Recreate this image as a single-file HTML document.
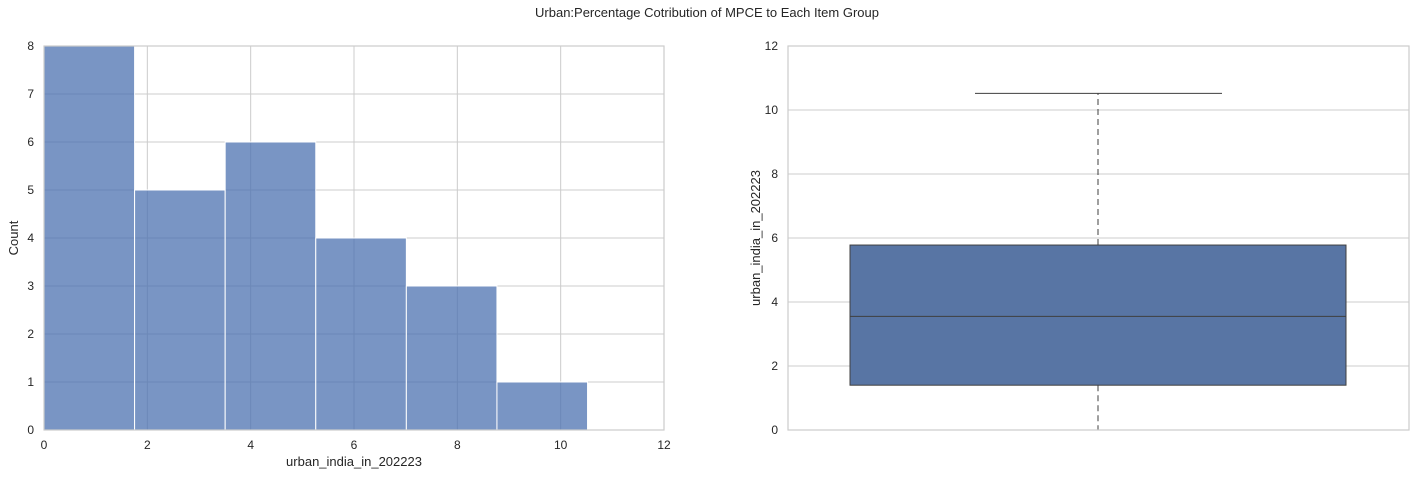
<!DOCTYPE html>
<html><head><meta charset="utf-8"><style>
body{margin:0;background:#fff;font-family:"Liberation Sans",sans-serif;}
svg text{font-family:"Liberation Sans",sans-serif;fill:#262626;}
</style></head><body>
<svg width="1415" height="477" xmlns="http://www.w3.org/2000/svg">
<text x="707" y="17" text-anchor="middle" font-size="13">Urban:Percentage Cotribution of MPCE to Each Item Group</text>
<g id="left"></g>
<g id="right"></g>
</svg>
<script>
const binCounts=[8,5,6,4,3,1];
const binMin=0, binMax=10.52;
const xTicks=[0,2,4,6,8,10,12];
const yTicksHist=[0,1,2,3,4,5,6,7,8];
const boxStats=[0,1.4,3.55,5.78,10.52]; // min,q1,median,q3,max
const yTicksBox=[0,2,4,6,8,10,12];
const NS="http://www.w3.org/2000/svg";
function mk(p,t,a){const e=document.createElementNS(NS,t);for(const k in a)e.setAttribute(k,a[k]);p.appendChild(e);return e;}
const L=document.getElementById('left'), R=document.getElementById('right');
const lx0=44,lx1=664,ly0=430,ly1=46;
const xs=v=>lx0+(v-0)/12*(lx1-lx0);
const ys=v=>ly0-v/8*(ly0-ly1);
xTicks.forEach(t=>{const l=mk(L,'line',{x1:xs(t),x2:xs(t),y1:ly1,y2:ly0,stroke:'#cccccc','stroke-width':1});

const tx=mk(L,'text',{x:xs(t),y:ly0+19,'text-anchor':'middle','font-size':12});tx.textContent=t;
});
yTicksHist.forEach(t=>{const l=mk(L,'line',{x1:lx0,x2:lx1,y1:ys(t),y2:ys(t),stroke:'#cccccc','stroke-width':1});

const tx=mk(L,'text',{x:lx0-10,y:ys(t)+4,'text-anchor':'end','font-size':12});tx.textContent=t;
});
const bw=(binMax-binMin)/binCounts.length;
binCounts.forEach((c,i)=>{const x0=xs(binMin+i*bw),x1=xs(binMin+(i+1)*bw);
const r=mk(L,'rect',{x:x0,y:ys(c),width:x1-x0,height:ys(0)-ys(c),fill:'#4c72b0','fill-opacity':0.75,stroke:'#fff','stroke-width':1});
});
const lf=mk(L,'rect',{x:lx0,y:ly1,width:lx1-lx0,height:ly0-ly1,fill:'none',stroke:'#cccccc','stroke-width':1.2});

let t1=mk(L,'text',{x:(lx0+lx1)/2,y:466,'text-anchor':'middle','font-size':13});t1.textContent='urban_india_in_202223';

let t2=mk(L,'text',{x:18,y:(ly0+ly1)/2,'text-anchor':'middle','font-size':13,transform:`rotate(-90 18 ${(ly0+ly1)/2})`});t2.textContent='Count';

const rx0=788,rx1=1409;
const yb=v=>ly0-v/12*(ly0-ly1);
yTicksBox.forEach(t=>{const l=mk(R,'line',{x1:rx0,x2:rx1,y1:yb(t),y2:yb(t),stroke:'#cccccc','stroke-width':1});

const tx=mk(R,'text',{x:rx0-10,y:yb(t)+4,'text-anchor':'end','font-size':12});tx.textContent=t;
});
const cx=1098,bx0=850,bx1=1346,cp0=975,cp1=1222;
let w1=mk(R,'line',{x1:cx,x2:cx,y1:yb(boxStats[3]),y2:yb(boxStats[4]),stroke:'#3f3f3f','stroke-dasharray':'6,4'});

let w2=mk(R,'line',{x1:cx,x2:cx,y1:yb(boxStats[1]),y2:yb(boxStats[0]),stroke:'#3f3f3f','stroke-dasharray':'6,4'});

let c1=mk(R,'line',{x1:cp0,x2:cp1,y1:yb(boxStats[4]),y2:yb(boxStats[4]),stroke:'#3f3f3f'});

let c2=mk(R,'line',{x1:cp0,x2:cp1,y1:yb(boxStats[0]),y2:yb(boxStats[0]),stroke:'#3f3f3f'});

let bx=mk(R,'rect',{x:bx0,y:yb(boxStats[3]),width:bx1-bx0,height:yb(boxStats[1])-yb(boxStats[3]),fill:'#5875a4',stroke:'#3f3f3f'});

let md=mk(R,'line',{x1:bx0,x2:bx1,y1:yb(boxStats[2]),y2:yb(boxStats[2]),stroke:'#3f3f3f'});

const rf=mk(R,'rect',{x:rx0,y:ly1,width:rx1-rx0,height:ly0-ly1,fill:'none',stroke:'#cccccc','stroke-width':1.2});

let t3=mk(R,'text',{x:760,y:(ly0+ly1)/2,'text-anchor':'middle','font-size':13,transform:`rotate(-90 760 ${(ly0+ly1)/2})`});t3.textContent='urban_india_in_202223';

</script>
</body></html>
